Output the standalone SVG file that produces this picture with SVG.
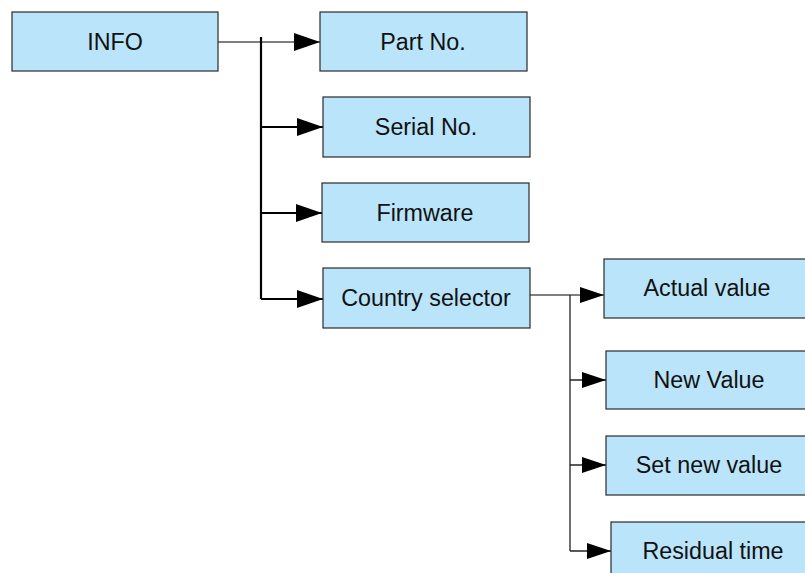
<svg xmlns="http://www.w3.org/2000/svg" width="805" height="573" viewBox="0 0 805 573">
<style>
.box{fill:#b9e4f9;stroke:#2a2a2a;stroke-width:1.2}
.t{font-family:"Liberation Sans",Arial,sans-serif;font-size:23.3px;fill:#111;text-anchor:middle;dominant-baseline:central}
.thin{stroke:#555;stroke-width:1.4;fill:none}
.thick{stroke:#000;stroke-width:2.2;fill:none}
.thin2{stroke:#222;stroke-width:1.3;fill:none}
</style>
<defs>
<marker id="ah" markerUnits="userSpaceOnUse" markerWidth="26" markerHeight="18" refX="26" refY="9" orient="auto" viewBox="0 0 26 18">
<path d="M0,0 L26,9 L0,18 Z" fill="#000"/>
</marker>
<marker id="ah2" markerUnits="userSpaceOnUse" markerWidth="24" markerHeight="16" refX="24" refY="8" orient="auto" viewBox="0 0 24 16">
<path d="M0,0 L24,8 L0,16 Z" fill="#000"/>
</marker>
</defs>
<g id="connectors">
<path class="thin" d="M218,42 H320" marker-end="url(#ah)"/>
<path class="thick" d="M261,37 V299"/>
<path class="thick" d="M261,127 H323" marker-end="url(#ah)"/>
<path class="thick" d="M261,213 H322" marker-end="url(#ah)"/>
<path class="thick" d="M261,299 H323" marker-end="url(#ah)"/>
<path class="thin" d="M530,295 H604" marker-end="url(#ah2)"/>
<path class="thin2" d="M570,295 V551"/>
<path class="thin2" d="M570,380 H606" marker-end="url(#ah2)"/>
<path class="thin2" d="M570,465 H606" marker-end="url(#ah2)"/>
<path class="thin2" d="M570,551 H611" marker-end="url(#ah2)"/>
</g>
<g id="info"><rect class="box" x="12" y="12" width="206" height="59"/><text class="t" x="115" y="42">INFO</text></g>
<g id="partno"><rect class="box" x="320" y="12" width="207" height="59"/><text class="t" x="423" y="42">Part No.</text></g>
<g id="serialno"><rect class="box" x="323" y="97" width="207" height="60"/><text class="t" x="426" y="127">Serial No.</text></g>
<g id="firmware"><rect class="box" x="322" y="183" width="207" height="59"/><text class="t" x="425" y="213">Firmware</text></g>
<g id="country"><rect class="box" x="323" y="268" width="207" height="60"/><text class="t" x="426" y="298">Country selector</text></g>
<g id="actual"><rect class="box" x="604" y="259" width="206" height="59"/><text class="t" x="707" y="288">Actual value</text></g>
<g id="newvalue"><rect class="box" x="606" y="351" width="206" height="58"/><text class="t" x="709" y="380">New Value</text></g>
<g id="setnew"><rect class="box" x="606" y="436" width="206" height="59"/><text class="t" x="709" y="465">Set new value</text></g>
<g id="residual"><rect class="box" x="611" y="522" width="206" height="60"/><text class="t" x="713" y="551">Residual time</text></g>
</svg>
